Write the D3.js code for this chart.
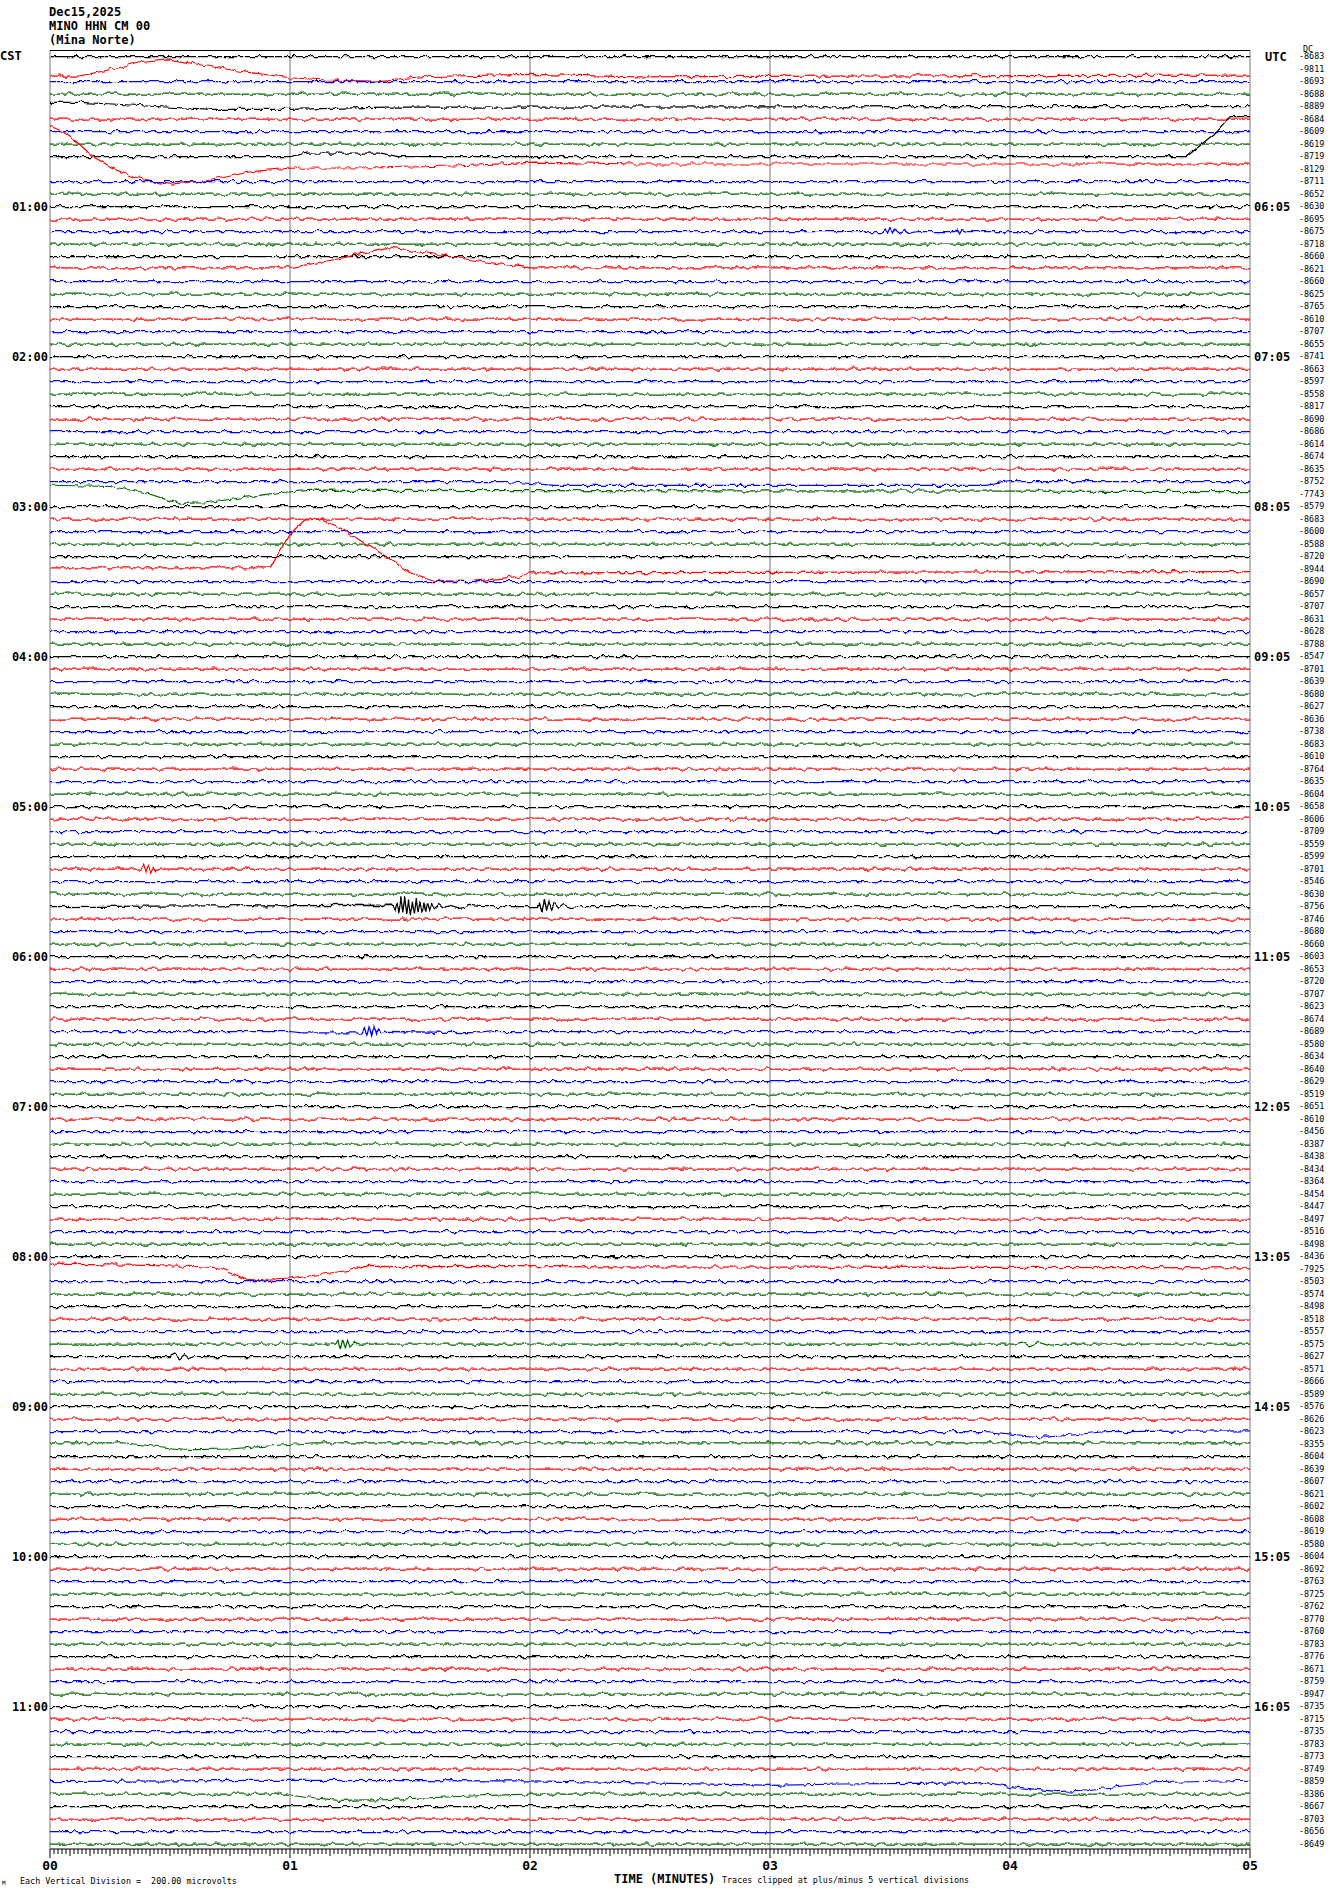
<!DOCTYPE html>
<html>
<head>
<meta charset="utf-8">
<script src="https://cdn.jsdelivr.net/npm/d3@7"></script>
<style>
	body { margin: 0; background: #fff; }
	text { font-family: "DejaVu Sans Mono", monospace; fill: #000; white-space: pre; }
	.big { font-weight: bold; font-size: 12px; }
	.small { font-size: 8.4px; }
</style>
</head>
<body>
<svg id="chart" width="1330" height="1894"></svg>
<script>
var headerLines = ["Dec15,2025", "MINO HHN CM 00", "(Mina Norte)"];
var cstHours = ["01:00", "02:00", "03:00", "04:00", "05:00", "06:00", "07:00", "08:00", "09:00", "10:00", "11:00"];
var utcHours = ["06:05", "07:05", "08:05", "09:05", "10:05", "11:05", "12:05", "13:05", "14:05", "15:05", "16:05"];
var minuteLabels = ["00", "01", "02", "03", "04", "05"];
var traceColors = ["#000000", "#ff0000", "#0000ff", "#006400"];
var traceLabels = [
	-8683, -9811, -8693, -8688, -8889, -8684, -8609, -8619, -8719, -8129, -8711, -8652,
	-8630, -8695, -8675, -8718, -8660, -8621, -8660, -8625, -8765, -8610, -8707, -8655,
	-8741, -8663, -8597, -8558, -8817, -8690, -8686, -8614, -8674, -8635, -8752, -7743,
	-8579, -8683, -8600, -8588, -8720, -8944, -8690, -8657, -8707, -8631, -8628, -8788,
	-8547, -8701, -8639, -8680, -8627, -8636, -8738, -8683, -8610, -8764, -8635, -8604,
	-8658, -8606, -8709, -8559, -8599, -8701, -8546, -8630, -8756, -8746, -8680, -8660,
	-8603, -8653, -8720, -8707, -8623, -8674, -8689, -8580, -8634, -8640, -8629, -8519,
	-8651, -8610, -8456, -8387, -8438, -8434, -8364, -8454, -8447, -8497, -8516, -8498,
	-8436, -7925, -8503, -8574, -8498, -8518, -8557, -8575, -8627, -8571, -8666, -8589,
	-8576, -8626, -8623, -8355, -8604, -8639, -8607, -8621, -8602, -8608, -8619, -8580,
	-8604, -8692, -8763, -8725, -8762, -8770, -8760, -8783, -8776, -8671, -8759, -8947,
	-8735, -8715, -8735, -8783, -8773, -8749, -8859, -8386, -8667, -8703, -8656, -8649
];

// [minute, divisions up]
var events = [
	{ trace: 1, pts: [[0, -0.56], [0.12, -0.56], [0.28, 0.06], [0.37, 0.58], [0.49, 0.8], [0.63, 0.32], [0.79, -0.18], [1.0, -0.7], [1.15, -0.88], [1.35, -0.96], [1.55, -0.62], [2.0, -0.43], [2.45, -0.62], [5, -0.48]] },
	{ trace: 4, pts: [[0, 0.33], [0.12, 0.33], [0.28, 0.18], [0.44, 0], [0.68, -0.23], [1.0, -0.23], [1.4, -0.05], [5, 0]] },
	{ trace: 8, pts: [[0, 0], [1.0, 0], [1.07, 0.27], [1.38, 0.27], [1.45, 0], [4.736, 0], [4.85, 1.8], [4.917, 3.2], [5, 3.2]] },
	{ trace: 9, pts: [[0, 3.44], [0.054, 2.98], [0.118, 2.06], [0.18, 0.98], [0.277, -0.08], [0.357, -0.74], [0.437, -1.06], [0.5, -1.2], [0.6, -1.04], [0.675, -0.88], [0.835, -0.22], [0.995, 0.06], [1.39, 0.1], [1.71, 0.26], [2.02, 0.54], [2.45, 0.4], [5, 0.4]] },
	{ trace: 14, pts: [[0, 0], [3.47, 0], [3.48, 0.2], [3.49, -0.2], [3.5, 0.25], [3.51, -0.2], [3.52, 0.2], [3.54, -0.15], [3.56, 0.15], [3.58, -0.1], [3.62, 0], [3.77, 0], [3.78, 0.2], [3.79, -0.2], [3.8, 0.15], [3.82, 0], [5, 0]] },
	{ trace: 17, pts: [[0, 0.1], [1.0, 0.1], [1.2, 0.8], [1.4, 1.7], [1.6, 1.2], [1.8, 0.6], [2.0, 0.1], [5, 0.1]] },
	{ trace: 34, pts: [[0, 0], [1.9, 0], [2.1, -0.3], [3.9, -0.3], [4.0, 0], [5, 0]] },
	{ trace: 35, pts: [[0, 0.7], [0.25, 0.6], [0.4, 0.1], [0.5, -0.55], [0.55, -0.75], [0.65, -0.7], [0.8, -0.3], [0.95, 0.1], [1.1, 0.3], [5, 0.2]] },
	{ trace: 41, pts: [[0, 0.1], [0.92, 0.1], [0.95, 1.2], [1.0, 2.8], [1.06, 3.9], [1.12, 4.0], [1.2, 3.4], [1.4, 1.0], [1.5, -0.3], [1.6, -0.9], [1.75, -1.0], [1.95, -0.6], [2.0, -0.3], [5, -0.2]] },
	{ trace: 65, pts: [[0, 0], [0.38, 0], [0.39, 0.3], [0.4, -0.3], [0.41, 0.25], [0.42, -0.25], [0.43, 0.2], [0.44, -0.15], [0.46, 0], [5, 0]] },
	{ trace: 68, pts: [[0, 0], [1.43, 0.1], [1.438, -0.25], [1.446, 0.4], [1.454, -0.5], [1.462, 0.65], [1.47, -0.55], [1.478, 0.75], [1.486, -0.6], [1.494, 0.55], [1.502, -0.7], [1.51, 0.45], [1.518, -0.55], [1.526, 0.6], [1.534, -0.4], [1.542, 0.45], [1.55, -0.45], [1.558, 0.3], [1.566, -0.4], [1.574, 0.25], [1.582, -0.3], [1.59, 0.25], [1.6, -0.2], [1.62, 0.15], [1.64, -0.15], [1.66, 0.12], [1.7, -0.08], [1.75, 0.08], [1.8, 0], [2.03, 0], [2.04, 0.25], [2.05, -0.4], [2.06, 0.5], [2.07, -0.35], [2.08, 0.4], [2.09, -0.25], [2.1, 0.3], [2.12, -0.15], [2.14, 0.15], [2.17, -0.08], [2.2, 0], [5, 0]] },
	{ trace: 78, pts: [[0, 0], [1.0, 0], [1.05, -0.1], [1.3, -0.1], [1.31, 0.3], [1.32, -0.35], [1.33, 0.4], [1.34, -0.35], [1.35, 0.3], [1.36, -0.3], [1.37, 0.2], [1.38, -0.2], [1.4, 0], [1.8, -0.1], [1.85, 0], [5, 0]] },
	{ trace: 97, pts: [[0, 0.4], [0.4, 0.3], [0.6, 0.2], [0.7, 0.1], [0.72, 0], [0.78, -0.5], [0.82, -0.9], [0.85, -0.95], [1.0, -0.8], [1.1, -0.5], [1.25, -0.1], [1.3, 0.2], [5, 0.1]] },
	{ trace: 103, pts: [[0, 0], [1.19, 0], [1.2, 0.3], [1.21, -0.4], [1.22, 0.4], [1.23, -0.35], [1.24, 0.3], [1.25, -0.25], [1.27, 0.15], [1.29, 0], [4.02, 0], [4.05, 0.15], [4.08, -0.15], [4.12, 0.12], [4.16, -0.1], [4.22, 0], [5, 0]] },
	{ trace: 104, pts: [[0, 0], [0.5, 0], [0.52, 0.2], [0.54, -0.2], [0.56, 0.15], [0.58, -0.15], [0.6, 0], [5, 0]] },
	{ trace: 110, pts: [[0, 0], [3.9, 0], [4.05, -0.3], [4.15, -0.45], [4.25, -0.3], [4.4, 0], [5, 0.05]] },
	{ trace: 111, pts: [[0, 0.1], [0.3, 0.1], [0.45, -0.2], [0.55, -0.4], [0.6, -0.45], [0.75, -0.4], [0.95, -0.1], [1.1, 0.1], [5, 0.1]] },
	{ trace: 138, pts: [[0, 0], [1.0, 0.1], [2.0, 0.05], [3.0, -0.3], [3.3, -0.2], [3.9, -0.1], [4.0, -0.4], [4.2, -0.8], [4.3, -0.7], [4.6, -0.1], [5, 0.1]] },
	{ trace: 139, pts: [[0, 0], [1.0, 0], [1.1, -0.3], [1.2, -0.5], [1.4, -0.45], [1.7, -0.2], [2.0, 0], [5, 0]] }
];

var svg = d3.select("#chart");
var x = d3.scaleLinear().domain([0, 5]).range([50, 1250]);
var y = d3.scaleLinear().domain([0, 143]).range([56.5, 1844]);

var defs = svg.append("defs");
var wiggle = defs.append("filter")
	.attr("id", "wiggle")
	.attr("filterUnits", "userSpaceOnUse")
	.attr("x", 0).attr("y", 0).attr("width", 1330).attr("height", 1894)
	.attr("color-interpolation-filters", "sRGB");
wiggle.append("feTurbulence")
	.attr("type", "fractalNoise")
	.attr("baseFrequency", "0.14 0.07")
	.attr("numOctaves", 3)
	.attr("seed", 7)
	.attr("result", "noise");
wiggle.append("feColorMatrix")
	.attr("in", "noise")
	.attr("type", "matrix")
	.attr("values", "0 0 0 0 0.5  0 1 0 0 0  0 0 0 0 0  0 0 0 0 1")
	.attr("result", "shift");
wiggle.append("feDisplacementMap")
	.attr("in", "SourceGraphic")
	.attr("in2", "shift")
	.attr("scale", 6)
	.attr("xChannelSelector", "R")
	.attr("yChannelSelector", "G");

// header
svg.selectAll(".head")
	.data(headerLines)
	.enter().append("text")
	.attr("class", "big head")
	.attr("x", 49)
	.attr("y", function(d, i) { return 16 + i * 14; })
	.text(function(d) { return d; });

svg.append("text").attr("class", "big").attr("x", 0).attr("y", 60).text("CST");
svg.append("text").attr("class", "big").attr("x", 1265).attr("y", 60.5).text("UTC");

// minute grid
svg.selectAll(".grid")
	.data(d3.range(0, 6))
	.enter().append("line")
	.attr("class", "grid")
	.attr("x1", function(d) { return x(d); })
	.attr("x2", function(d) { return x(d); })
	.attr("y1", 50.5)
	.attr("y2", 1849)
	.attr("stroke", "#8c8c8c")
	.attr("stroke-width", 1.2);

svg.append("line")
	.attr("x1", x(0)).attr("x2", x(5))
	.attr("y1", 50.5).attr("y2", 50.5)
	.attr("stroke", "#000").attr("stroke-width", 1.2);

// traces
var eventMap = {};
events.forEach(function(e) { eventMap[e.trace] = e.pts; });

var traces = svg.append("g").attr("filter", "url(#wiggle)");
traceLabels.forEach(function(v, k) {
	var pts = eventMap[k] || [[0, 0], [5, 0]];
	var line = d3.line()
		.x(function(d) { return x(d[0]); })
		.y(function(d) { return y(k - d[1]); });
	traces.append("path")
		.attr("d", line(pts))
		.attr("fill", "none")
		.attr("stroke", traceColors[k % 4])
		.attr("stroke-width", 1.25);
});

// hour labels
svg.selectAll(".cst")
	.data(cstHours)
	.enter().append("text")
	.attr("class", "big cst")
	.attr("x", 48)
	.attr("y", function(d, i) { return y((i + 1) * 12); })
	.attr("dy", "0.36em")
	.attr("text-anchor", "end")
	.text(function(d) { return d; });

svg.selectAll(".utc")
	.data(utcHours)
	.enter().append("text")
	.attr("class", "big utc")
	.attr("x", 1254)
	.attr("y", function(d, i) { return y((i + 1) * 12); })
	.attr("dy", "0.36em")
	.text(function(d) { return d; });

svg.selectAll(".num")
	.data(traceLabels)
	.enter().append("text")
	.attr("class", "small num")
	.attr("x", 1299)
	.attr("y", function(d, i) { return y(i); })
	.attr("dy", "0.35em")
	.text(function(d) { return d; });

svg.append("text").attr("class", "small").attr("x", 1303).attr("y", y(0) - 4.5).attr("font-size", "6.5px").text("DC");

// time axis
svg.append("line")
	.attr("x1", x(0)).attr("x2", x(5))
	.attr("y1", 1849).attr("y2", 1849)
	.attr("stroke", "#000").attr("stroke-width", 1.2);

svg.selectAll(".tick")
	.data(d3.range(0, 301))
	.enter().append("line")
	.attr("class", "tick")
	.attr("x1", function(d) { return x(d / 60); })
	.attr("x2", function(d) { return x(d / 60); })
	.attr("y1", 1849)
	.attr("y2", function(d) { return 1849 + (d % 60 == 0 ? 9 : (d % 5 == 0 ? 7 : 5)); })
	.attr("stroke", "#000")
	.attr("stroke-width", 1);

svg.selectAll(".min")
	.data(minuteLabels)
	.enter().append("text")
	.attr("class", "min")
	.attr("x", function(d, i) { return x(i); })
	.attr("y", 1870)
	.attr("text-anchor", "middle")
	.attr("font-weight", "bold")
	.attr("font-size", "13px")
	.text(function(d) { return d; });

svg.append("text").attr("class", "big").attr("x", 614).attr("y", 1883).attr("font-size", "11.5px").text("TIME (MINUTES)");
svg.append("text").attr("class", "small").attr("x", 722).attr("y", 1883).text("Traces clipped at plus/minus 5 vertical divisions");
svg.append("text").attr("class", "small").attr("x", 20).attr("y", 1884).text("Each Vertical Division =  200.00 microvolts");
svg.append("text").attr("x", 2).attr("y", 1885).attr("font-size", "6px").text("M");
</script>
</body>
</html>
